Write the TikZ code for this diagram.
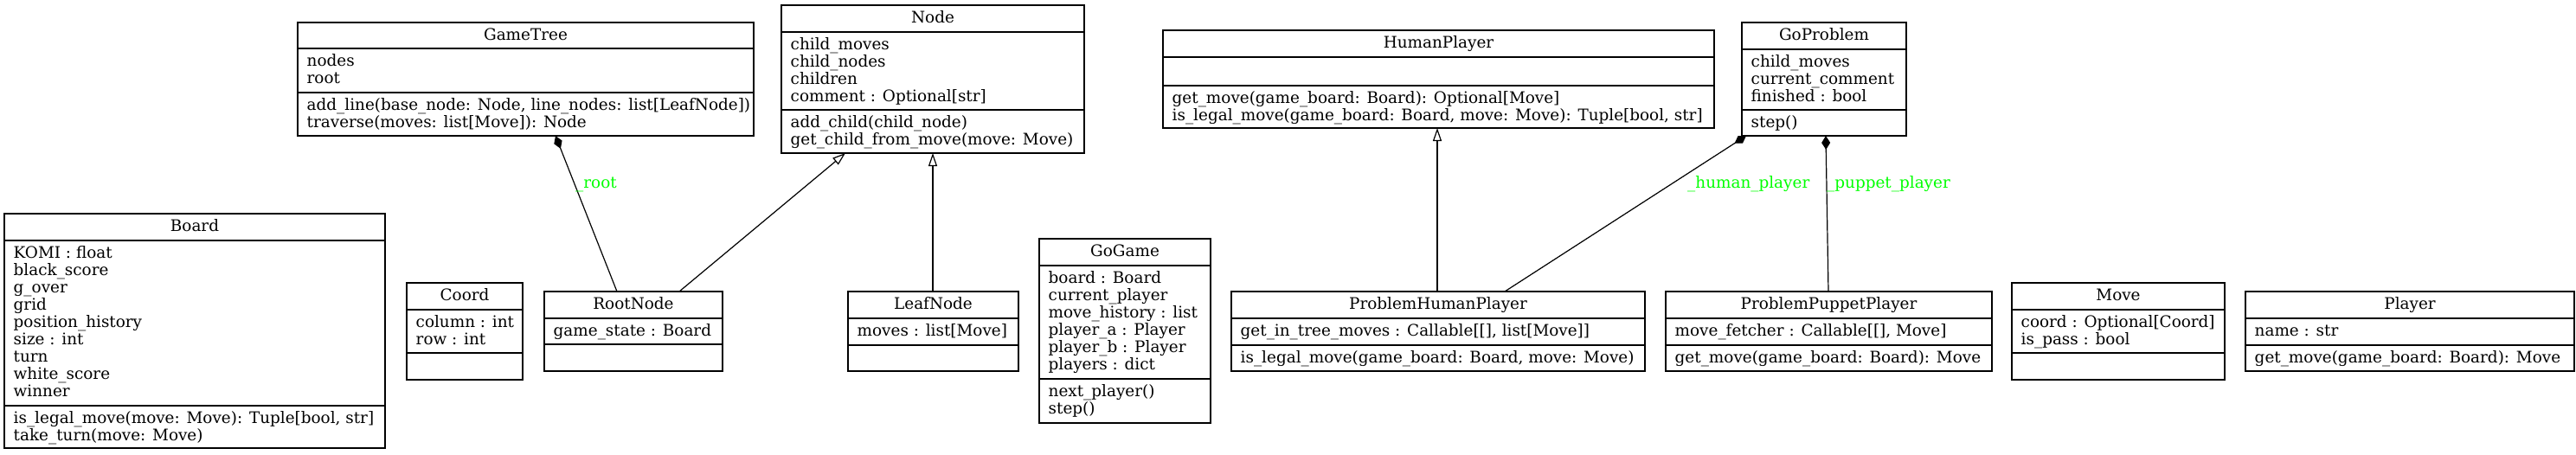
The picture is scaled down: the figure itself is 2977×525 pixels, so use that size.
\documentclass[tikz,border=0pt]{standalone}
\usepackage{fontspec}
\setmainfont{DejaVu Serif}
\usetikzlibrary{arrows.meta}
\definecolor{lblgreen}{RGB}{0,255,0}
\newcommand\umlclass[8]{%
  \node[clsbox, minimum width={(#4-#2)*1pt}, minimum height={(#5-#3)*1pt}] (#1) at ({(#2+#4)/2},{(#3+#5)/2}) {};
  \draw[sepline] (#2,#6) -- (#4,#6);
  \draw[sepline] (#2,#7) -- (#4,#7);
  \node[clstitle] (#1-title) at ({(#2+#4)/2},{(#3+#6)/2}) {#8};
}
\newcommand\umlsec[4]{%
  \node[clssec] (#1) at ({#2+10.5},{#3+6.5}) {\strut #4};
}
\begin{document}
\begin{tikzpicture}[x=1pt,y=-1pt,
  txt/.style={font=\fontsize{18.4}{20}\selectfont},
  clsbox/.style={draw, line width=1.5pt, inner sep=0pt, outer sep=0pt},
  sepline/.style={line width=1.5pt},
  clstitle/.style={txt, anchor=center, inner sep=0pt, text height=13.5pt, text depth=3pt},
  clssec/.style={txt, anchor=north west, inner sep=0pt, align=left},
  edge/.style={line width=1.2pt},
  inh/.style={edge, -{Triangle[open, length=15pt, width=10pt]}},
  comp/.style={edge, {Diamond[length=16pt, width=10pt]}-},
  lbl/.style={txt, text=lblgreen, anchor=base west, inner sep=0pt}]
\useasboundingbox (0,0) rectangle (2977,525);
\fill[white] (0,0) rectangle (2977,525);

% Board
\umlclass{board}{5}{247}{445}{518}{278}{469}{Board}
\umlsec{board-a}{5}{278}{KOMI : float\\ \strut black\_score\\ \strut g\_over\\ \strut grid\\ \strut position\_history\\ \strut size : int\\ \strut turn\\ \strut white\_score\\ \strut winner}
\umlsec{board-m}{5}{469}{is\_legal\_move(move: Move): Tuple[bool, str]\\ \strut take\_turn(move: Move)}

% GameTree
\umlclass{gametree}{344}{26}{871}{157}{56}{107}{GameTree}
\umlsec{gametree-a}{344}{56}{nodes\\ \strut root}
\umlsec{gametree-m}{344}{107}{add\_line(base\_node: Node, line\_nodes: list[LeafNode])\\ \strut traverse(moves: list[Move]): Node}

% Node
\umlclass{nodecls}{903}{6}{1253}{177}{37}{127}{Node}
\umlsec{nodecls-a}{903}{37}{child\_moves\\ \strut child\_nodes\\ \strut children\\ \strut comment : Optional[str]}
\umlsec{nodecls-m}{903}{127}{add\_child(child\_node)\\ \strut get\_child\_from\_move(move: Move)}

% Coord
\umlclass{coord}{470}{327}{604}{439}{358}{408}{Coord}
\umlsec{coord-a}{470}{358}{column : int\\ \strut row : int}

% RootNode
\umlclass{rootnode}{629}{337}{835}{429}{368}{398}{RootNode}
\umlsec{rootnode-a}{629}{368}{game\_state : Board}

% LeafNode
\umlclass{leafnode}{980}{337}{1177}{429}{368}{399}{LeafNode}
\umlsec{leafnode-a}{980}{368}{moves : list[Move]}

% GoGame
\umlclass{gogame}{1201}{276}{1399}{489}{307}{438}{GoGame}
\umlsec{gogame-a}{1201}{307}{board : Board\\ \strut current\_player\\ \strut move\_history : list\\ \strut player\_a : Player\\ \strut player\_b : Player\\ \strut players : dict}
\umlsec{gogame-m}{1201}{438}{next\_player()\\ \strut step()}

% HumanPlayer
\umlclass{humanplayer}{1344}{35}{1981}{148}{66}{99}{HumanPlayer}
\umlsec{humanplayer-m}{1344}{99}{get\_move(game\_board: Board): Optional[Move]\\ \strut is\_legal\_move(game\_board: Board, move: Move): Tuple[bool, str]}

% GoProblem
\umlclass{goproblem}{2013}{26}{2203}{157}{57}{127}{GoProblem}
\umlsec{goproblem-a}{2013}{57}{child\_moves\\ \strut current\_comment\\ \strut finished : bool}
\umlsec{goproblem-m}{2013}{127}{step()}

% ProblemHumanPlayer
\umlclass{php}{1423}{337}{1901}{429}{368}{399}{ProblemHumanPlayer}
\umlsec{php-a}{1423}{368}{get\_in\_tree\_moves : Callable[[], list[Move]]}
\umlsec{php-m}{1423}{399}{is\_legal\_move(game\_board: Board, move: Move)}

% ProblemPuppetPlayer
\umlclass{ppp}{1925}{337}{2302}{429}{368}{399}{ProblemPuppetPlayer}
\umlsec{ppp-a}{1925}{368}{move\_fetcher : Callable[[], Move]}
\umlsec{ppp-m}{1925}{399}{get\_move(game\_board: Board): Move}

% Move
\umlclass{move}{2325}{327}{2571}{439}{358}{408}{Move}
\umlsec{move-a}{2325}{358}{coord : Optional[Coord]\\ \strut is\_pass : bool}

% Player
\umlclass{player}{2595}{337}{2975}{429}{368}{399}{Player}
\umlsec{player-a}{2595}{368}{name : str}
\umlsec{player-m}{2595}{399}{get\_move(game\_board: Board): Move}

% connectors
\draw[comp] ([xshift=298pt]gametree.south west) -- ([xshift=84pt]rootnode.north west);
\draw[inh] ([xshift=156pt]rootnode.north west) -- ([xshift=74pt]nodecls.south west);
\draw[inh] ([xshift=98pt]leafnode.north west) -- ([xshift=175pt]nodecls.south west);
\draw[inh] ([xshift=238pt]php.north west) -- ([xshift=317pt]humanplayer.south west);
\draw[comp] ([xshift=5pt]goproblem.south west) -- ([xshift=316pt]php.north west);
\draw[comp] ([xshift=97pt]goproblem.south west) -- ([xshift=188pt]ppp.north west);

% labels
\node[lbl] (lbl-root) at (665,217) {\_root};
\node[lbl] (lbl-human) at (1950,217) {\_human\_player};
\node[lbl] (lbl-puppet) at (2111,217) {\_puppet\_player};
\end{tikzpicture}
\end{document}
